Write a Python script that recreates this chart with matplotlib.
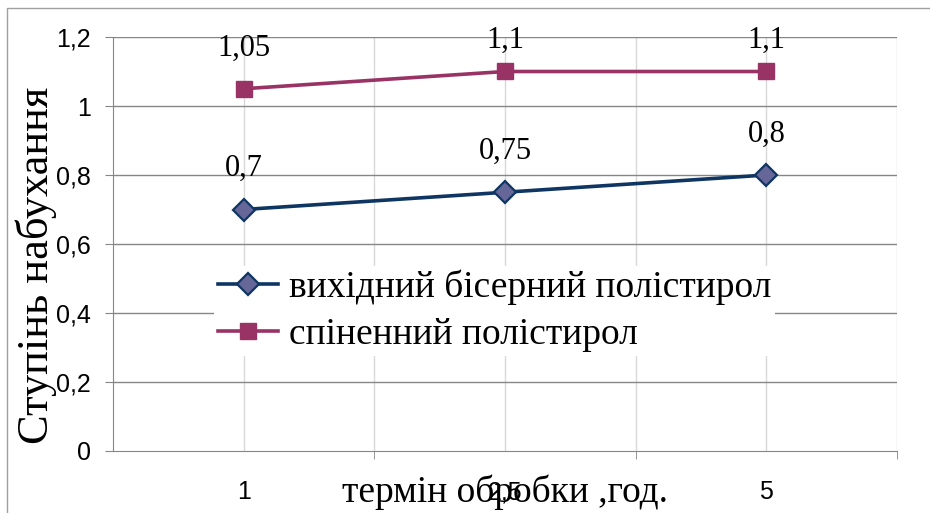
import matplotlib.pyplot as plt
import matplotlib.patches as patches
import numpy as np

# термін обробки, год. (категорії)
terms = ['1', '2,5', '5']
vykhidnyi = [0.7, 0.75, 0.8]
spinenyi = [1.05, 1.1, 1.1]
labels_v = ['0,7', '0,75', '0,8']
labels_s = ['1,05', '1,1', '1,1']
yticks = [0, 0.2, 0.4, 0.6, 0.8, 1.0, 1.2]
ytick_labels = ['0', '0,2', '0,4', '0,6', '0,8', '1', '1,2']

serif = 'Liberation Serif'
sans = 'Liberation Sans'
grid_dark = '#868686'
grid_light = '#d9d9d9'
blue = '#0f3563'
blue_fill = '#666699'
purple = '#993366'

fig = plt.figure(figsize=(9.3, 5.13), dpi=100)
W, H = 930, 513
ax = fig.add_axes([113 / W, 1 - 451 / H, (897 - 113) / W, (451 - 37) / H])

x = np.arange(len(terms))

# сітка
for xv in np.arange(0, 2.6, 0.5):
    ax.axvline(xv, color=grid_light, lw=1, zorder=0)
for yv in yticks[1:]:
    ax.axhline(yv, color=grid_dark, lw=1, zorder=0.5)

l1, = ax.plot(x, vykhidnyi, color=blue, lw=2.6, marker='D', markersize=11,
              markerfacecolor=blue_fill, markeredgecolor=blue, markeredgewidth=1.6,
              label='вихідний бісерний полістирол', zorder=3)
l2, = ax.plot(x, spinenyi, color=purple, lw=2.6, marker='s', markersize=12,
              markerfacecolor=purple, markeredgecolor=purple,
              label='спіненний полістирол', zorder=3)

# підписи значень; біля верхньої межі підпис притиснутий ближче до точки
for xi, v, t in zip(x, vykhidnyi, labels_v):
    ax.annotate(t, (xi, v), xytext=(0, 24), textcoords='offset points',
                ha='center', va='baseline', fontsize=22, family=serif)
for xi, v, t in zip(x, spinenyi, labels_s):
    dy = 24 if v < 1.08 else 17
    ax.annotate(t, (xi, v), xytext=(0, dy), textcoords='offset points',
                ha='center', va='baseline', fontsize=22, family=serif)

ax.set_xlim(-0.5, 2.5)
ax.set_ylim(0, 1.2)

ax.set_yticks(yticks)
ax.set_yticklabels(ytick_labels, family=sans, fontsize=18)
ax.tick_params(axis='y', length=6, color=grid_dark, pad=10)

ax.set_xticks(x)
ax.set_xticklabels(terms, family=sans, fontsize=18)
ax.set_xticks([0.5, 1.5, 2.5], minor=True)
ax.tick_params(axis='x', which='major', length=0, pad=21)
ax.tick_params(axis='x', which='minor', length=6, color=grid_dark)

for s in ['top', 'right']:
    ax.spines[s].set_visible(False)
for s in ['left', 'bottom']:
    ax.spines[s].set_color(grid_dark)

ax.set_ylabel('Ступінь набухання', family=serif, fontsize=32)
ax.yaxis.set_label_coords(-0.071, 0.449)
fig.text(505 / W, 1 - 492 / H, 'термін обробки ,год.', family=serif, fontsize=27,
         ha='center', va='center')

leg = ax.legend(handles=[l1, l2], loc='upper left',
                bbox_to_anchor=(214 / W, 1 - 266 / H), bbox_transform=fig.transFigure,
                prop={'family': serif, 'size': 27}, frameon=True, framealpha=1,
                edgecolor='none', handlelength=1.6, handletextpad=0.3,
                labelspacing=0.32, borderpad=0.1, borderaxespad=0)

# рамка діаграми
fig.patches.append(patches.Rectangle((7 / W, -0.1), 1.2, 1.1 - 8 / H, fill=False,
                                     edgecolor='#a0a0a0', lw=1,
                                     transform=fig.transFigure, figure=fig))

fig.savefig('out.png', dpi=100)
